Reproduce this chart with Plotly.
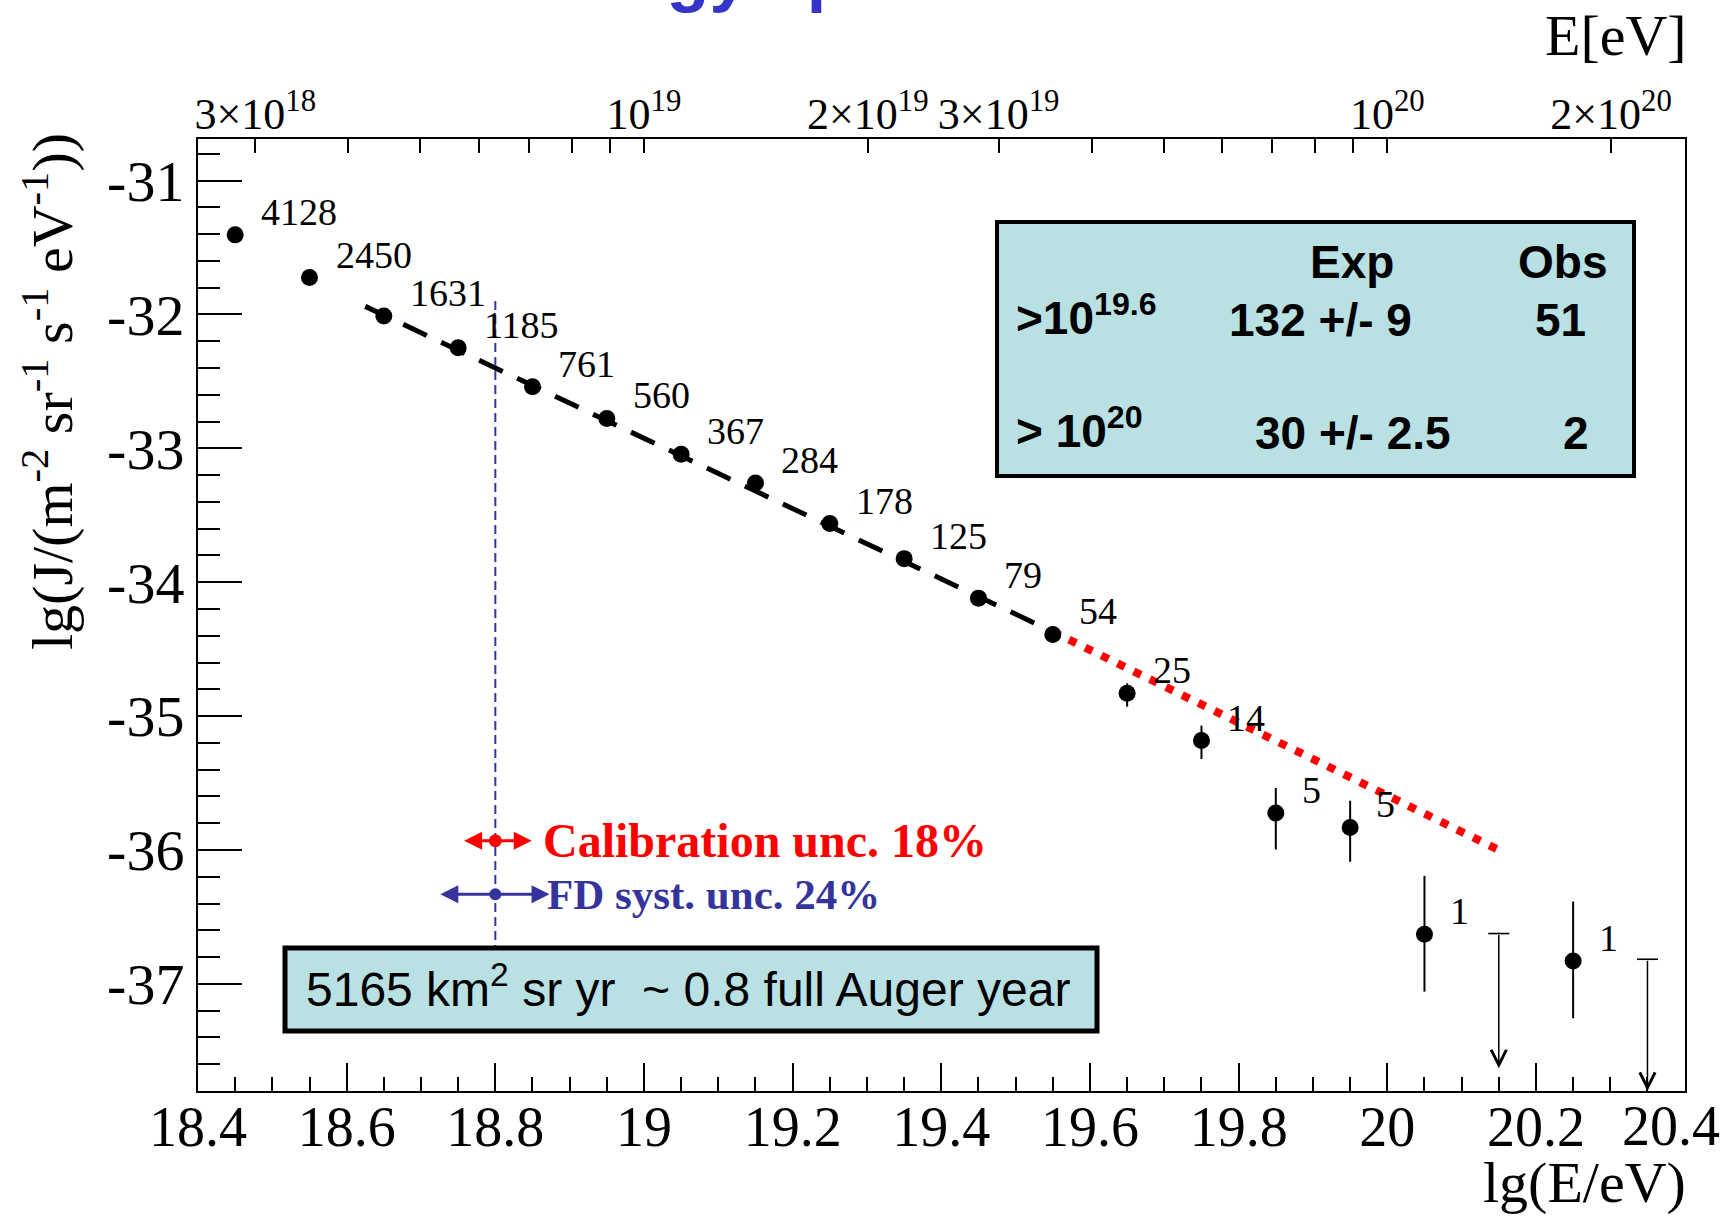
import numpy as np
import plotly.graph_objects as go

# ---------------- data ----------------
lgE = [18.45, 18.55, 18.65, 18.75, 18.85, 18.95, 19.05, 19.15, 19.25, 19.35,
       19.45, 19.55, 19.65, 19.75, 19.85, 19.95, 20.05, 20.25]
lgJ = [-31.406, -31.725, -32.012, -32.249, -32.541, -32.777, -33.044, -33.259,
       -33.562, -33.824, -34.119, -34.390, -34.829, -35.183, -35.724, -35.832,
       -36.629, -36.829]
counts = [4128, 2450, 1631, 1185, 761, 560, 367, 284, 178, 125, 79, 54, 25, 14,
          5, 5, 1, 1]
err_up = [0.007, 0.009, 0.011, 0.013, 0.016, 0.018, 0.023, 0.026, 0.033, 0.039,
          0.050, 0.060, 0.074, 0.112, 0.187, 0.200, 0.436, 0.444]
err_dn = [0.007, 0.009, 0.011, 0.013, 0.016, 0.018, 0.023, 0.027, 0.034, 0.040,
          0.052, 0.062, 0.100, 0.137, 0.272, 0.256, 0.429, 0.428]

# upper limits (arrows)
ul_x = [20.15, 20.35]
ul_top = [-36.624, -36.816]
ul_tip = [-37.631, -37.80]

# fit line and its extrapolation
fit_x = [18.625, 19.55]
fit_y = [-31.94, -34.37]
ext_x = [19.55, 20.15]
ext_y = [-34.37, -36.00]

# systematic-uncertainty markers
sys_center = 18.8
vline_y = [-31.90, -36.72]
cal_y, cal_lo, cal_hi = -35.931, 18.756, 18.849
fd_y, fd_lo, fd_hi = -36.33, 18.724, 18.873

# axes
x_ticks = [18.4, 18.6, 18.8, 19.0, 19.2, 19.4, 19.6, 19.8, 20.0, 20.2, 20.4]
x_ticktext = ["18.4", "18.6", "18.8", "19", "19.2", "19.4", "19.6", "19.8", "20", "20.2", ""]
last_xlabel = "20.4"
y_ticks = [-37, -36, -35, -34, -33, -32, -31]
y_ticktext = ["-37", "-36", "-35", "-34", "-33", "-32", "-31"]
E_ticks = [3e18, 4e18, 5e18, 6e18, 7e18, 8e18, 9e18, 1e19, 2e19, 3e19, 4e19,
           5e19, 6e19, 7e19, 8e19, 9e19, 1e20, 2e20]
E_labels = {3e18: "3×10<sup>18</sup>", 1e19: "10<sup>19</sup>", 2e19: "2×10<sup>19</sup>",
            3e19: "3×10<sup>19</sup>", 1e20: "10<sup>20</sup>", 2e20: "2×10<sup>20</sup>"}

# ---------------- layout geometry ----------------
W, H = 1733, 1218
L, R, T, B = 198, 1685, 139, 1091
X0, X1 = 18.4, 20.4
Y0, Y1 = -37.8, -30.69

def px_x(p):
    return (p - L) / (R - L)

def px_y(p):
    return (B - p) / (B - T)

def dx(p):
    return X0 + (p - L) / (R - L) * (X1 - X0)

SERIF = "Liberation Serif"
SANS = "Liberation Sans"
BLUE = "#34349c"

fig = go.Figure()

# fit (dashed) and extrapolation (dotted)
fig.add_trace(go.Scatter(x=fit_x, y=fit_y, mode="lines",
                         line=dict(color="black", width=5, dash="26px,16px"),
                         hoverinfo="skip", showlegend=False))
fig.add_trace(go.Scatter(x=ext_x, y=ext_y, mode="lines",
                         line=dict(color="#ff0000", width=8, dash="8px,10px"),
                         hoverinfo="skip", showlegend=False))

# vertical dashed reference line
fig.add_trace(go.Scatter(x=[sys_center, sys_center], y=vline_y, mode="lines",
                         line=dict(color=BLUE, width=2, dash="9px,5px"),
                         hoverinfo="skip", showlegend=False))

# data points
fig.add_trace(go.Scatter(
    x=lgE, y=lgJ, mode="markers",
    marker=dict(color="black", size=17, symbol="circle"),
    error_y=dict(type="data", symmetric=False, array=err_up, arrayminus=err_dn,
                 color="black", thickness=2, width=0),
    showlegend=False))

# upper limit caps
fig.add_trace(go.Scatter(x=ul_x, y=ul_top, mode="markers",
                         marker=dict(symbol="line-ew", size=15,
                                     line=dict(color="black", width=1.6)),
                         showlegend=False, hoverinfo="skip"))

# systematic dots
fig.add_trace(go.Scatter(x=[sys_center], y=[cal_y], mode="markers",
                         marker=dict(color="#ff0000", size=13), showlegend=False))
fig.add_trace(go.Scatter(x=[sys_center], y=[fd_y], mode="markers",
                         marker=dict(color=BLUE, size=12), showlegend=False))

# invisible trace for top axis
fig.add_trace(go.Scatter(x=[X0], y=[Y0], xaxis="x2", mode="markers",
                         marker=dict(opacity=0), showlegend=False, hoverinfo="skip"))

annotations = []

# count labels
for xv, yv, n in zip(lgE, lgJ, counts):
    annotations.append(dict(x=xv, y=yv, xref="x", yref="y", text=str(n),
                            showarrow=False, xanchor="left", yanchor="middle",
                            xshift=24, yshift=23,
                            font=dict(family=SERIF, size=38, color="black")))

# upper-limit arrows
for xv, top, tip in zip(ul_x, ul_top, ul_tip):
    annotations.append(dict(x=xv, y=tip, ax=xv, ay=top, xref="x", yref="y",
                            axref="x", ayref="y", text="", showarrow=True,
                            arrowhead=5, arrowsize=2.0, arrowwidth=1.5,
                            arrowcolor="black"))

# systematic double arrows
annotations.append(dict(x=cal_hi, y=cal_y, ax=cal_lo, ay=cal_y, xref="x", yref="y",
                        axref="x", ayref="y", text="", showarrow=True,
                        arrowhead=2, startarrowhead=2, arrowside="end+start",
                        arrowsize=1.2, startarrowsize=1.2, arrowwidth=3,
                        arrowcolor="#ff0000"))
annotations.append(dict(x=fd_hi, y=fd_y, ax=fd_lo, ay=fd_y, xref="x", yref="y",
                        axref="x", ayref="y", text="", showarrow=True,
                        arrowhead=2, startarrowhead=2, arrowside="end+start",
                        arrowsize=1.2, startarrowsize=1.2, arrowwidth=3,
                        arrowcolor=BLUE))
annotations.append(dict(x=dx(541), y=cal_y, xref="x", yref="y",
                        text="<b>Calibration unc. 18%</b>", showarrow=False,
                        xanchor="left", yanchor="middle",
                        font=dict(family=SERIF, size=48, color="#ff0000")))
annotations.append(dict(x=dx(545), y=fd_y, xref="x", yref="y",
                        text="<b>FD syst. unc. 24%</b>", showarrow=False,
                        xanchor="left", yanchor="middle",
                        font=dict(family=SERIF, size=43, color=BLUE)))

# info box texts
box_font = dict(family=SANS, size=46, color="black")
def box_text(text, xc, yc, anchor="center"):
    annotations.append(dict(x=px_x(xc), y=px_y(yc), xref="paper", yref="paper",
                            text="<b>" + text + "</b>", showarrow=False,
                            xanchor=anchor, yanchor="middle", font=box_font))

box_text("Exp", 1352, 262)
box_text("Obs", 1562, 262)
box_text("&gt;10<sup>19.6</sup>", 1014, 315, "left")
box_text("132 +/- 9", 1320, 320)
box_text("51", 1560, 320)
box_text("&gt; 10<sup>20</sup>", 1014, 428, "left")
box_text("30 +/- 2.5", 1353, 433)
box_text("2", 1576, 433)

# exposure box text
annotations.append(dict(x=px_x(304), y=px_y(986), xref="paper", yref="paper",
                        text="5165 km<sup>2</sup> sr yr&nbsp; ~ 0.8 full Auger year",
                        showarrow=False, xanchor="left", yanchor="middle",
                        font=dict(family=SANS, size=48, color="black")))

# last bottom tick label (kept inside the page edge)
annotations.append(dict(x=px_x(1722), y=px_y(1126), xref="paper", yref="paper",
                        text=last_xlabel, showarrow=False, xanchor="right", yanchor="middle",
                        font=dict(family=SERIF, size=56, color="black")))

# axis titles
annotations.append(dict(x=px_x(1689), y=px_y(36), xref="paper", yref="paper",
                        text="E[eV]", showarrow=False, xanchor="right", yanchor="middle",
                        font=dict(family=SERIF, size=58, color="black")))
annotations.append(dict(x=px_x(1688), y=px_y(1182), xref="paper", yref="paper",
                        text="lg(E/eV)", showarrow=False, xanchor="right", yanchor="middle",
                        font=dict(family=SERIF, size=58, color="black")))
annotations.append(dict(x=px_x(48), y=px_y(392), xref="paper", yref="paper",
                        text="lg(J/(m<sup>-2</sup> sr<sup>-1</sup> s<sup>-1</sup> eV<sup>-1</sup>))",
                        showarrow=False, textangle=-90, xanchor="center", yanchor="middle",
                        font=dict(family=SERIF, size=58, color="black")))

# cut-off title at the very top
annotations.append(dict(x=px_x(509), y=px_y(15), xref="paper", yref="paper",
                        text="<b>Energy spectrum</b>", showarrow=False,
                        xanchor="left", yanchor="bottom",
                        font=dict(family=SANS, size=70, color="#3434c8")))

shapes = [
    dict(type="rect", xref="paper", yref="paper",
         x0=px_x(997), x1=px_x(1634), y0=px_y(222), y1=px_y(476),
         fillcolor="#b9e0e3", line=dict(color="black", width=4), layer="above"),
    dict(type="rect", xref="paper", yref="paper",
         x0=px_x(285), x1=px_x(1097), y0=px_y(948), y1=px_y(1031),
         fillcolor="#b9e0e3", line=dict(color="black", width=5), layer="above"),
]

fig.update_layout(
    width=W, height=H,
    margin=dict(l=L, r=W - R, t=T, b=H - B, pad=0),
    paper_bgcolor="white", plot_bgcolor="white",
    showlegend=False,
    annotations=annotations,
    shapes=shapes,
    xaxis=dict(range=[X0, X1 + 0.0005], tickmode="array", tickvals=x_ticks, ticktext=x_ticktext,
               ticks="inside", ticklen=28, tickwidth=1.5, tickcolor="black",
               ticklabelstandoff=-14,
               minor=dict(ticks="inside", ticklen=14, tickwidth=1.5, tickcolor="black",
                          dtick=0.05, tick0=18.4),
               showline=True, linewidth=2, linecolor="black", mirror=True,
               showgrid=False, zeroline=False,
               tickfont=dict(family=SERIF, size=56, color="black")),
    xaxis2=dict(range=[X0, X1 + 0.0005], overlaying="x", side="top", anchor="y",
                tickmode="array", tickvals=list(np.log10(E_ticks)),
                ticktext=[E_labels.get(e, "") for e in E_ticks],
                ticks="inside", ticklen=14, tickwidth=1.5, tickcolor="black",
                showline=False, showgrid=False, zeroline=False,
                tickfont=dict(family=SERIF, size=44, color="black")),
    yaxis=dict(range=[Y0, Y1], tickmode="array", tickvals=y_ticks, ticktext=y_ticktext,
               ticks="inside", ticklen=44, tickwidth=1.5, tickcolor="black",
               minor=dict(ticks="inside", ticklen=22, tickwidth=1.5, tickcolor="black",
                          dtick=0.2, tick0=-37),
               showline=True, linewidth=2, linecolor="black", mirror=True,
               showgrid=False, zeroline=False,
               tickfont=dict(family=SERIF, size=58, color="black")),
)

fig.write_html("out.html")
